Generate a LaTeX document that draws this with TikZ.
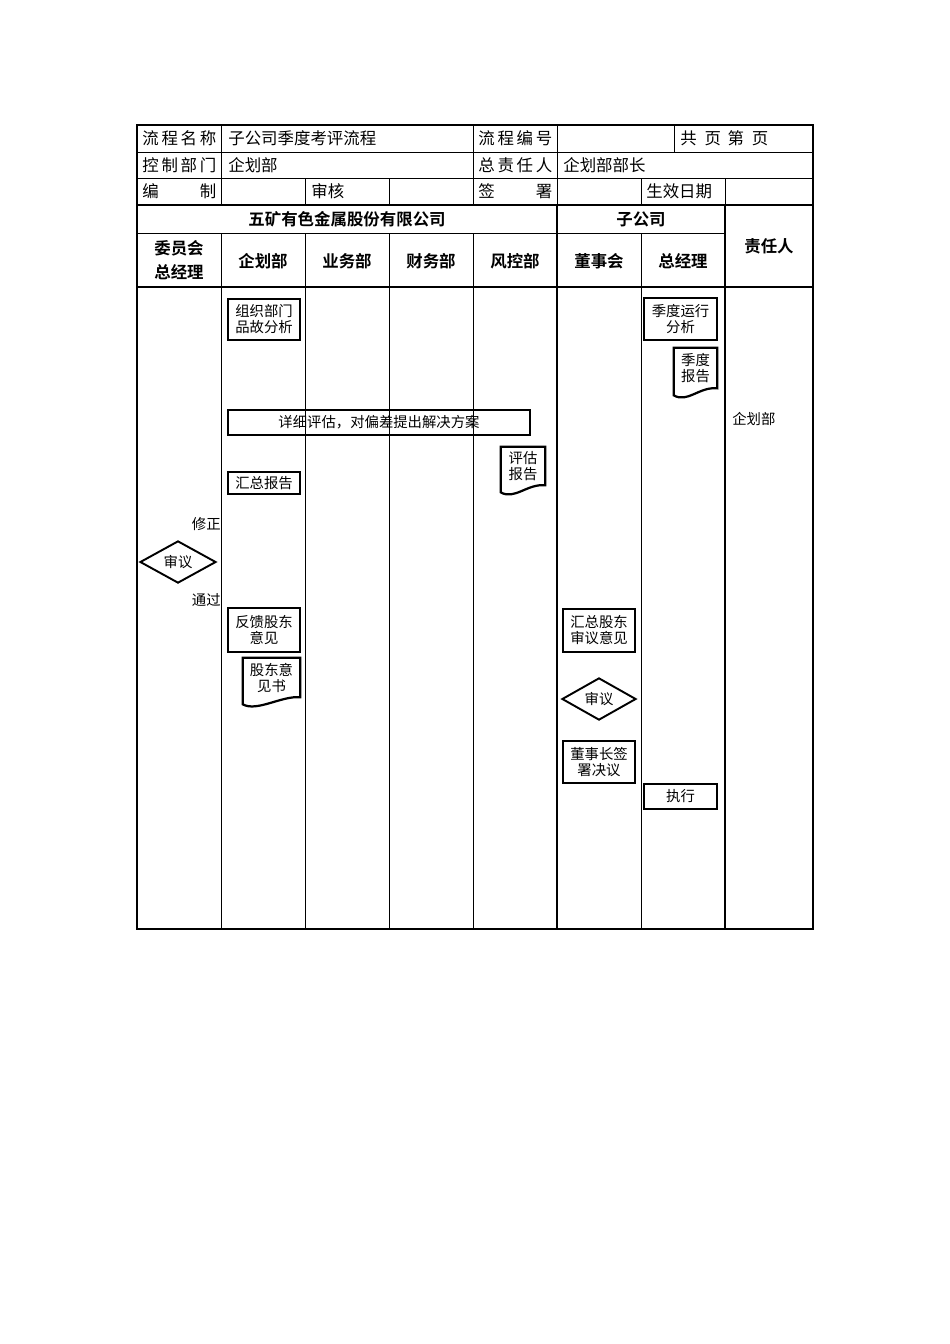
\documentclass[tikz,border=0pt]{standalone}
\usepackage{fontspec}
\setmainfont{Noto Sans CJK SC}[BoldFont={Noto Sans CJK SC Bold}]
\usetikzlibrary{shapes.geometric,calc}

% paper with a wavy bottom edge
\newcommand\docshape[1]{%
  \draw[line width=1.4pt] (#1.north west) -- (#1.north east) -- (#1.south east)
    .. controls +(-18,-2) and +(14,8) .. ($(#1.south west)+(0,7)$) -- cycle;}
\newcommand\spread[1]{\makebox[46.4pt][s]{#1}}

\begin{document}
\begin{tikzpicture}[x=0.6266pt, y=-0.6266pt,
            hd/.style={font=\fontsize{10.3}{12}\selectfont, inner sep=0pt},
            bhd/.style={font=\fontsize{10.3}{15}\selectfont\bfseries, inner sep=0pt, align=center},
            txt/.style={font=\fontsize{9}{10}\selectfont, inner sep=0pt},
            proc/.style={draw, line width=1.4pt, inner sep=0pt, align=center, font=\fontsize{9}{10}\selectfont},
            doc/.style={inner sep=0pt, align=center, font=\fontsize{9}{10}\selectfont},
            judge/.style={draw, diamond, line width=1.2pt, inner sep=0pt, font=\fontsize{9}{10}\selectfont}]
            \useasboundingbox (0,0) rectangle (950,1344);
            % table grid
            \draw[line width=0.6pt] (137,152) -- (813,152) (137,178) -- (813,178) (137,233) -- (725,233);
            \draw[line width=0.6pt] (221,125) -- (221,205) (473,125) -- (473,205) (557,125) -- (557,205)
                (674,125) -- (674,152) (305,178) -- (305,205) (389,178) -- (389,205)
                (641,178) -- (641,205) (725,178) -- (725,205);
            \foreach \x in {221,305,389,473,641} \draw[line width=0.6pt] (\x,233) -- (\x,929);
            \draw[line width=0.8pt] (557,205) -- (557,929) (725,205) -- (725,929);
            \draw[line width=1.6pt] (137,205) -- (813,205) (137,287) -- (813,287);
            \draw[line width=1.8pt] (137,125) rectangle (813,929);
            % form header
            \node(n1) [hd, anchor=west] at (142,138.5) {\spread{流\hfill 程\hfill 名\hfill 称}};
            \node(n2) [hd, anchor=west] at (228,138.5) {子公司季度考评流程};
            \node(n3) [hd, anchor=west] at (478,138.5) {\spread{流\hfill 程\hfill 编\hfill 号}};
            \node(n4) [hd, anchor=west] at (680,138.5) {共\hspace{5pt}页\hspace{4pt}第\hspace{5pt}页};
            \node(n5) [hd, anchor=west] at (142,165) {\spread{控\hfill 制\hfill 部\hfill 门}};
            \node(n6) [hd, anchor=west] at (228,165) {企划部};
            \node(n7) [hd, anchor=west] at (478,165) {\spread{总\hfill 责\hfill 任\hfill 人}};
            \node(n8) [hd, anchor=west] at (563,165) {企划部部长};
            \node(n9) [hd, anchor=west] at (142,191.5) {\spread{编\hfill 制}};
            \node(n10) [hd, anchor=west] at (311,191.5) {审核};
            \node(n11) [hd, anchor=west] at (478,191.5) {\spread{签\hfill 署}};
            \node(n12) [hd, anchor=west] at (646,191.5) {生效日期};
            % lane headers
            \node(group) [bhd] at (347,219) {五矿有色金属股份有限公司};
            \node(sub) [bhd] at (641,219) {子公司};
            \node(owner) [bhd] at (769,246) {责任人};
            \node(L1) [bhd] at (179,260) {委员会\\总经理};
            \node(L2) [bhd] at (263,261) {企划部};
            \node(L3) [bhd] at (347,261) {业务部};
            \node(L4) [bhd] at (431,261) {财务部};
            \node(L5) [bhd] at (515,261) {风控部};
            \node(L6) [bhd] at (599,261) {董事会};
            \node(L7) [bhd] at (683,261) {总经理};
            % steps
            \node(analyze) [proc, minimum width=45.1pt, minimum height=25.7pt] at (264,319.5) {组织部门\\品故分析};
            \node(runana) [proc, minimum width=45.7pt, minimum height=26.3pt] at (680.5,319) {季度运行\\分析};
            \node(qreport) [doc, minimum width=26.9pt, minimum height=25.1pt] at (695.5,368) {季度\\报告};
            \docshape{qreport}
            \node(evaluate) [proc, minimum width=189.2pt, minimum height=15.7pt] at (379,422.5) {详细评估，对偏差提出解决方案};
            \node(evrep) [doc, minimum width=27.6pt, minimum height=23.8pt] at (523,466) {评估\\报告};
            \docshape{evrep}
            \node(summary) [proc, minimum width=45.1pt, minimum height=13.8pt] at (264,483) {汇总报告};
            \node(fix) [txt, anchor=east] at (221,524) {修正};
            \node(review) [judge, minimum width=47.6pt, minimum height=23.8pt] at (178,562) {审议};
            \node(pass) [txt, anchor=east] at (221,600) {通过};
            \node(feedback) [proc, minimum width=45.1pt, minimum height=27.6pt] at (264,630) {反馈股东\\意见};
            \node(opinion) [doc, minimum width=35.7pt, minimum height=24.4pt] at (271.5,677.5) {股东意\\见书};
            \docshape{opinion}
            \node(collect) [proc, minimum width=45.1pt, minimum height=26.9pt] at (599,630.5) {汇总股东\\审议意见};
            \node(boardrev) [judge, minimum width=46.4pt, minimum height=23.8pt] at (599,699) {审议};
            \node(resolve) [proc, minimum width=45.1pt, minimum height=26.3pt] at (599,762) {董事长签\\署决议};
            \node(execute) [proc, minimum width=45.7pt, minimum height=15.7pt] at (680.5,796.5) {执行};
            \node(duty) [txt, anchor=west] at (732,419) {企划部};
            \end{tikzpicture}
\end{document}
